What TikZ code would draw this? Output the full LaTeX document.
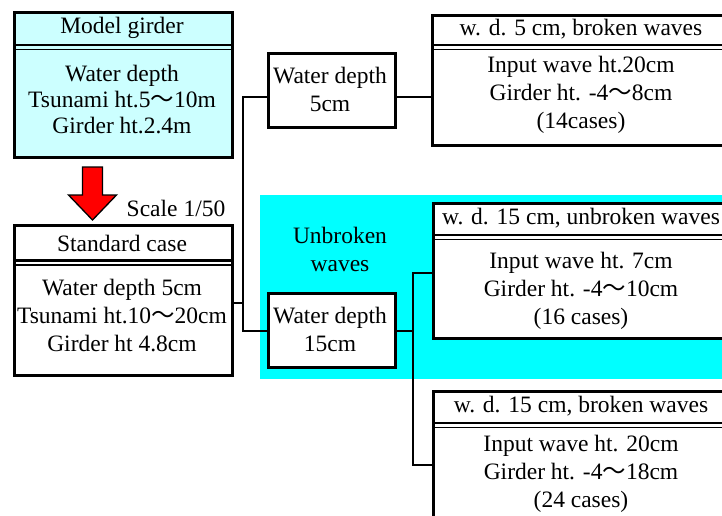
\documentclass[tikz,border=0pt]{standalone}
\usepackage{fontspec}
\setmainfont{Liberation Serif}
\newfontfamily\cjk{Noto Sans CJK JP}
\newcommand\wavedash{{\cjk ～}}
\definecolor{palecyan}{HTML}{CCFFFF}
\definecolor{aqua}{HTML}{00FFFF}
\begin{document}
\begin{tikzpicture}[x=1pt,y=-1pt,
  frame/.style={draw=black, line width=2.6pt, rectangle, inner sep=0pt},
  conn/.style={draw=black, line width=1.3pt},
  txt/.style={inner sep=0pt, align=center, font=\fontsize{23.5}{28}\selectfont},
  tighttxt/.style={inner sep=0pt, align=center, font=\fontsize{23.5}{26}\selectfont},
  sepA/.style={draw=black, line width=2.4pt},
  sepB/.style={draw=black, line width=1.6pt}]
\useasboundingbox (0,0) rectangle (722,515);
\clip (0,0) rectangle (722,515);

% shaded region behind the 15 cm branch
\fill[aqua] (260,195) rectangle (722,379);

% --- left column ---
\node[frame, fill=palecyan, minimum width=218pt, minimum height=145pt, anchor=north west] (model) at (13,11) {};
\draw[sepA] (model.west |- 0,45) -- (model.east |- 0,45);
\draw[sepB] (model.west |- 0,49.5) -- (model.east |- 0,49.5);
\node[txt] (modelhead) at (122,28) {Model girder};
\node[tighttxt] (modelbody) at (122,100) {Water depth\\Tsunami ht.5\wavedash10m\\Girder ht.2.4m};

% scaling arrow
\filldraw[fill=red, draw=black, line width=1.3pt, line join=miter]
  (82.5,167) -- (102.5,167) -- (102.5,195) -- (116.5,195) -- (92.5,220)
  -- (68.5,195) -- (82.5,195) -- cycle;
\node[txt] (scale) at (176,208) {Scale 1/50};

\node[frame, fill=white, minimum width=218pt, minimum height=150pt, anchor=north west] (std) at (13,224) {};
\draw[sepA] (std.west |- 0,260.5) -- (std.east |- 0,260.5);
\draw[sepB] (std.west |- 0,265) -- (std.east |- 0,265);
\node[txt] (stdhead) at (122,243) {Standard case};
\node[txt] (stdbody) at (122,316) {Water depth 5cm\\Tsunami ht.10\wavedash20cm\\Girder ht 4.8cm};

% --- middle column ---
\node[frame, fill=white, minimum width=127pt, minimum height=74pt, anchor=north west] (wd5) at (267,52) {};
\node[txt] (wd5txt) at (330,89) {Water depth\\5cm};
\node[txt] (unbroken) at (340,249) {Unbroken\\waves};
\node[frame, fill=white, minimum width=127pt, minimum height=74pt, anchor=north west] (wd15) at (267,292) {};
\node[txt] (wd15txt) at (330,329) {Water depth\\15cm};

% --- right column ---
\node[frame, fill=white, minimum width=304pt, minimum height=130pt, anchor=north west] (r1) at (431,14) {};
\draw[sepA] (r1.west |- 0,45) -- (r1.east |- 0,45);
\draw[sepB] (r1.west |- 0,49.5) -- (r1.east |- 0,49.5);
\node[txt] (r1head) at (581,29) {w. d. 5 cm, broken waves};
\node[txt] (r1body) at (581,95) {Input wave ht.20cm\\Girder ht. -4\wavedash8cm\\(14cases)};

\node[frame, fill=white, minimum width=304pt, minimum height=135pt, anchor=north west] (r2) at (432,202) {};
\draw[sepA] (r2.west |- 0,235) -- (r2.east |- 0,235);
\draw[sepB] (r2.west |- 0,239.5) -- (r2.east |- 0,239.5);
\node[txt] (r2head) at (581,218) {w. d. 15 cm, unbroken waves};
\node[txt] (r2body) at (581,291) {Input wave ht. 7cm\\Girder ht. -4\wavedash10cm\\(16 cases)};

\node[frame, fill=white, minimum width=304pt, minimum height=150pt, anchor=north west] (r3) at (432,390) {};
\draw[sepA] (r3.west |- 0,423) -- (r3.east |- 0,423);
\draw[sepB] (r3.west |- 0,427.5) -- (r3.east |- 0,427.5);
\node[txt] (r3head) at (581,406) {w. d. 15 cm, broken waves};
\node[txt] (r3body) at (581,474) {Input wave ht. 20cm\\Girder ht. -4\wavedash18cm\\(24 cases)};

% --- connectors ---
\coordinate (join) at (243,303);
\coordinate (ta) at (243,97);
\coordinate (tb) at (243,331);
\coordinate (b0) at (413,331);
\coordinate (b1) at (413,273);
\coordinate (b2) at (413,465);
\draw[conn] (std.east |- join) -- (join);
\draw[conn] (ta -| wd5.west) -- (ta) -- (tb) -- (tb -| wd15.west);
\draw[conn] (wd5.east |- ta) -- (r1.west |- ta);
\draw[conn] (wd15.east |- b0) -- (b0);
\draw[conn] (r2.west |- b1) -- (b1) -- (b2) -- (r3.west |- b2);
\end{tikzpicture}
\end{document}
